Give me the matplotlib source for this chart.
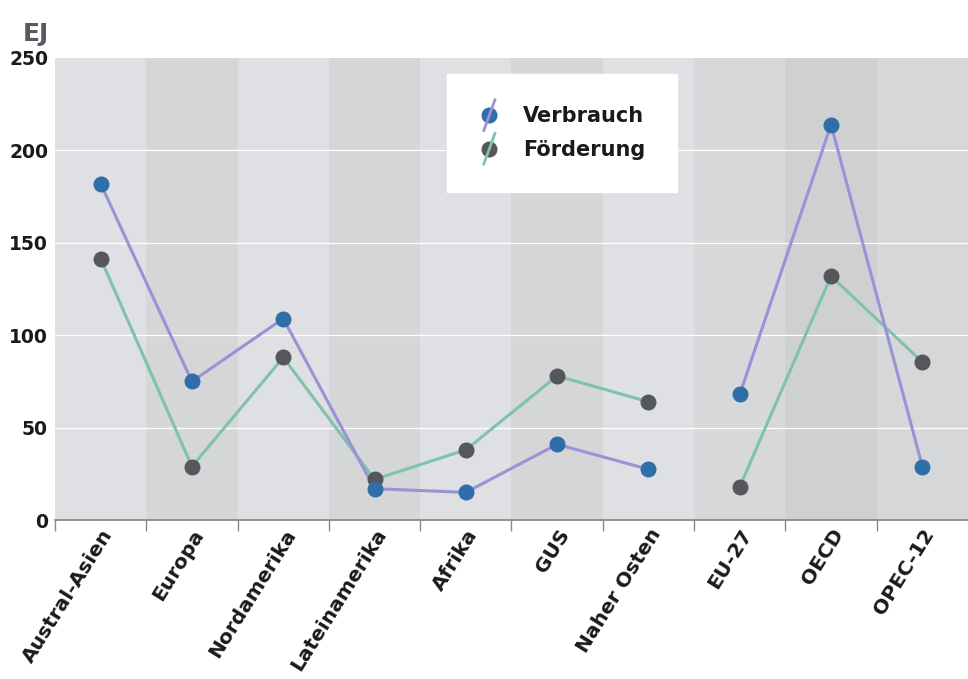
import matplotlib
matplotlib.use("Agg")
import matplotlib.pyplot as plt
from matplotlib.legend_handler import HandlerBase
from matplotlib.lines import Line2D
import numpy as np

categories = ["Austral-Asien", "Europa", "Nordamerika", "Lateinamerika", "Afrika",
              "GUS", "Naher Osten", "EU-27", "OECD", "OPEC-12"]
verbrauch = [182, 75, 109, 17, 15, 41, 27.5, 68, 214, 29]
foerderung = [141.5, 29, 88, 22, 38, 78, 64, 18, 132, 85.5]
groups = [(0, 7), (7, 10)]
band_colors = ["#dfe0e3", "#d5d6d8", "#dfe0e3", "#d5d6d8", "#dfe0e3",
               "#d5d6d8", "#dfe0e3", "#d7d8da", "#cfd0d2", "#d6d7d9"]
yticks = [0, 50, 100, 150, 200, 250]

V_LINE, V_MARK = "#9993d6", "#2f6ea8"
F_LINE, F_MARK = "#80c2ac", "#56575b"

plt.rcParams['font.family'] = ['DejaVu Sans']
fig = plt.figure(figsize=(9.68, 6.79), dpi=100)
ax = fig.add_axes([0.0568, 0.234, 0.9432, 0.6806])

n = len(categories)
x = np.arange(n)
for i, c in enumerate(band_colors):
    ax.axvspan(i - 0.5, i + 0.5, color=c, zorder=0, lw=0)

for yv in yticks[1:-1]:
    ax.axhline(yv, color="white", lw=0.9, zorder=1)

for (a, b) in groups:
    ax.plot(x[a:b], foerderung[a:b], color=F_LINE, lw=2.2, zorder=2)
    ax.plot(x[a:b], verbrauch[a:b], color=V_LINE, lw=2.2, zorder=2)
ax.plot(x, foerderung, ls="none", marker="o", ms=10.5, color=F_MARK, zorder=3)
ax.plot(x, verbrauch, ls="none", marker="o", ms=10.5, color=V_MARK, zorder=4)

ax.set_xlim(-0.5, n - 0.5)
ax.set_ylim(0, 250)
ax.set_yticks(yticks)
ax.set_yticklabels([str(v) for v in yticks], fontsize=13.5, fontweight="bold", color="#1a1a1a")
ax.tick_params(axis="y", length=0, pad=5)
ax.set_xticks(x)
ax.set_xticklabels(categories, rotation=58, ha="right", rotation_mode="anchor",
                   fontsize=14.5, fontweight="bold", color="#1a1a1a")
ax.tick_params(axis="x", which="major", length=0, pad=4)
ax.set_xticks(np.arange(-0.5, n - 0.5, 1.0), minor=True)
ax.tick_params(axis="x", which="minor", length=8, width=1, color="#8a8a8a", direction="out")
for s in ["top", "right", "left"]:
    ax.spines[s].set_visible(False)
ax.spines["bottom"].set_color("#8a8a8a")
ax.spines["bottom"].set_linewidth(1.3)

fig.text(0.023, 0.95, "EJ", fontsize=18, fontweight="bold", color="#575b61", ha="left", va="center")


class DiagHandler(HandlerBase):
    def __init__(self, lc, mc):
        super().__init__()
        self.lc, self.mc = lc, mc

    def create_artists(self, legend, orig_handle, xdescent, ydescent, width, height, fontsize, trans):
        cx = width / 2 - xdescent
        cy = height / 2 - ydescent
        m = Line2D([cx], [cy], ls="none", marker="o", ms=10.5, color=self.mc, transform=trans)
        l = Line2D([cx - 4, cx + 4], [cy - 11, cy + 11], color=self.lc, lw=2.0, transform=trans)
        return [m, l]


h1 = Line2D([], [])
h2 = Line2D([], [])
leg = ax.legend([h1, h2], ["Verbrauch", "Förderung"],
                handler_map={h1: DiagHandler(V_LINE, V_MARK), h2: DiagHandler(F_LINE, F_MARK)},
                loc="upper left", bbox_to_anchor=(0.429, 0.965), frameon=True, fancybox=False,
                borderpad=1.55, handlelength=1.0, handletextpad=1.1, labelspacing=0.65,
                prop={"size": 15, "weight": "bold"}, borderaxespad=0)
leg.get_frame().set_facecolor("white")
leg.get_frame().set_edgecolor("white")
leg.get_frame().set_alpha(1)
for t in leg.get_texts():
    t.set_color("#1a1a1a")
leg.set_zorder(10)

fig.savefig("out.png", dpi=100)
